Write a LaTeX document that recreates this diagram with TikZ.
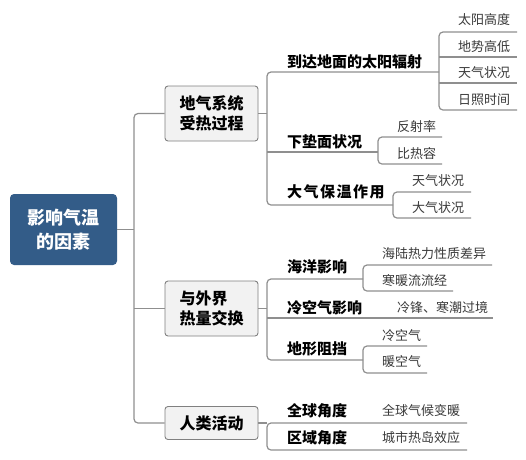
\documentclass[tikz,border=0pt]{standalone}
\usepackage{fontspec}
\setmainfont{Noto Sans CJK SC}
\definecolor{rootblue}{HTML}{335C88}
\definecolor{boxfill}{HTML}{F2F2F2}
\definecolor{boxborder}{HTML}{808080}
\definecolor{linegray}{HTML}{8F8F8F}
\definecolor{leafgray}{HTML}{3A3A3A}
\begin{document}
\begin{tikzpicture}[x=1pt,y=-1pt,
  conn/.style={draw=linegray, line width=1.2pt, rounded corners=4pt},
  rootnode/.style={fill=rootblue, rounded corners=4pt, text=white, inner sep=0pt,
    font=\bfseries\fontsize{18}{24}\selectfont, align=center,
    minimum width=107pt, minimum height=71pt},
  boxnode/.style={draw=boxborder, fill=boxfill, rounded corners=3pt, line width=0.9pt,
    font=\bfseries\fontsize{16}{20}\selectfont, align=left, inner sep=0pt,
    minimum width=93pt},
  lvtwo/.style={anchor=west, inner sep=0pt, font=\bfseries\fontsize{15}{15}\selectfont,
    text height=11.4pt, text depth=0pt},
  leaf/.style={anchor=west, inner sep=0pt, text=leafgray, font=\fontsize{13}{13}\selectfont,
    text height=9.9pt, text depth=0pt}]
\useasboundingbox[fill=white] (0,0) rectangle (526,459);

% main nodes
\node[rootnode] (root) at (63.5,229.5) {影响气温\\的因素};
\node[boxnode, minimum height=55pt] (box1) at (211.5,113.5) {地气系统\\受热过程};
\node[boxnode, minimum height=55pt] (box2) at (211.5,308.5) {与外界\\热量交换};
\node[boxnode, minimum height=33pt] (box3) at (211.5,423) {人类活动};

% trunk
\coordinate (trunk) at (134,229.5);
\draw[conn] (root.east) -- (trunk);
\draw[conn] (box1.west) -| (trunk) |- (box3.west);
\draw[conn] (trunk |- box2.west) -- (box2.west);

% ---------- group 1 ----------
\coordinate (u1as) at (267,72);  \coordinate (u1ae) at (439,72);
\coordinate (u1bs) at (267,152); \coordinate (u1be) at (378,152);
\coordinate (u1cs) at (267,205); \coordinate (u1ce) at (393,205);
\draw[conn] (box1.east) -- (box1.east -| u1as);
\draw[conn] (u1ae) -- (u1as) -- (u1cs) -- (u1ce);
\draw[conn] (u1bs) -- (u1be);
\node[lvtwo] (n1a) at (287,62) {到达地面的太阳辐射};
\node[lvtwo] (n1b) at (287,142) {下垫面状况};
\node[lvtwo] (n1c) at (287,192) {\addfontfeature{LetterSpace=10}大气保温作用};

% leaves of 1a
\coordinate (v1s) at (439,32);  \coordinate (v1e) at (517,32);
\coordinate (v2s) at (439,57);  \coordinate (v2e) at (517,57);
\coordinate (v3s) at (439,83);  \coordinate (v3e) at (517,83);
\coordinate (v4s) at (439,110); \coordinate (v4e) at (517,110);
\draw[conn] (v1e) -- (v1s) -- (v4s) -- (v4e);
\draw[conn] (v2s) -- (v2e);
\draw[conn] (v3s) -- (v3e);
\node[leaf] (l1) at (458,20) {太阳高度};
\node[leaf] (l2) at (458,47) {地势高低};
\node[leaf] (l3) at (458,73) {天气状况};
\node[leaf] (l4) at (458,100) {日照时间};

% leaves of 1b
\coordinate (w1s) at (378,137); \coordinate (w1e) at (442,137);
\coordinate (w2s) at (378,164); \coordinate (w2e) at (442,164);
\draw[conn] (w1e) -- (w1s) -- (w2s) -- (w2e);
\node[leaf] (l5) at (397,127) {反射率};
\node[leaf] (l6) at (397,154) {比热容};

% leaves of 1c
\coordinate (x1s) at (393,192); \coordinate (x1e) at (471,192);
\coordinate (x2s) at (393,218); \coordinate (x2e) at (471,218);
\draw[conn] (x1e) -- (x1s) -- (x2s) -- (x2e);
\node[leaf] (l7) at (412,181) {天气状况};
\node[leaf] (l8) at (412,208) {大气状况};

% ---------- group 2 ----------
\coordinate (u2as) at (267,279); \coordinate (u2ae) at (363,279);
\coordinate (u2bs) at (267,318); \coordinate (u2be) at (493,318);
\coordinate (u2cs) at (267,360); \coordinate (u2ce) at (363,360);
\draw[conn] (box2.east) -- (box2.east -| u2as);
\draw[conn] (u2ae) -- (u2as) -- (u2cs) -- (u2ce);
\draw[conn] (u2bs) -- (u2be);
\node[lvtwo] (n2a) at (287,267) {海洋影响};
\node[lvtwo] (n2b) at (287,308) {冷空气影响};
\node[lvtwo] (n2c) at (287,349) {地形阻挡};

% leaves of 2a
\coordinate (y1s) at (363,265); \coordinate (y1e) at (492,265);
\coordinate (y2s) at (363,291); \coordinate (y2e) at (453,291);
\draw[conn] (y1e) -- (y1s) -- (y2s) -- (y2e);
\node[leaf] (l9) at (382,254) {海陆热力性质差异};
\node[leaf] (l10) at (382,281) {寒暖流流经};
% leaf of 2b
\node[leaf] (l11) at (397,308) {冷锋、寒潮过境};
% leaves of 2c
\coordinate (z1s) at (363,346); \coordinate (z1e) at (427,346);
\coordinate (z2s) at (363,373); \coordinate (z2e) at (427,373);
\draw[conn] (z1e) -- (z1s) -- (z2s) -- (z2e);
\node[leaf] (l12) at (382,336) {冷空气};
\node[leaf] (l13) at (382,362) {暖空气};

% ---------- group 3 ----------
\coordinate (u3as) at (267,423); \coordinate (u3ae) at (467,423);
\coordinate (u3bs) at (267,450); \coordinate (u3be) at (467,450);
\draw[conn] (box3.east) -- (u3as);
\draw[conn] (u3ae) -- (u3as) -- (u3bs) -- (u3be);
\node[lvtwo] (n3a) at (287,411) {全球角度};
\node[lvtwo] (n3b) at (287,438) {区域角度};
\node[leaf] (l14) at (382,411) {全球气候变暖};
\node[leaf] (l15) at (382,438) {城市热岛效应};
\end{tikzpicture}
\end{document}
